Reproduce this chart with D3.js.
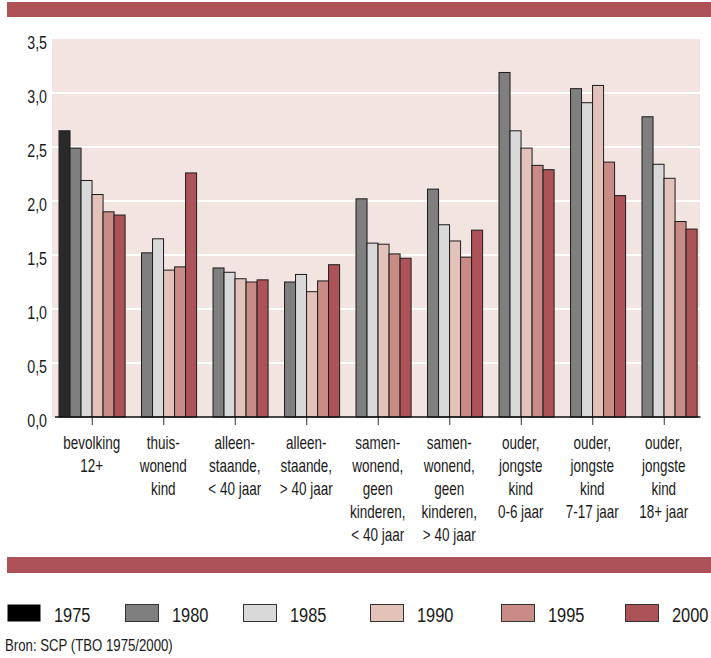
<!DOCTYPE html>
<html>
<head>
<meta charset="utf-8">
<script src="https://cdn.jsdelivr.net/npm/d3@7/dist/d3.min.js"></script>
<style>
  html, body { margin: 0; padding: 0; background: #ffffff; }
  svg { display: block; }
  text { font-family: "Liberation Sans", Arial, sans-serif; fill: #1a1a1a; }
</style>
</head>
<body>
<svg id="chart" width="711" height="658"></svg>
<script>
// ---- data ----
const categories = [
  ["bevolking", "12+"],
  ["thuis-", "wonend", "kind"],
  ["alleen-", "staande,", "< 40 jaar"],
  ["alleen-", "staande,", "> 40 jaar"],
  ["samen-", "wonend,", "geen", "kinderen,", "< 40 jaar"],
  ["samen-", "wonend,", "geen", "kinderen,", "> 40 jaar"],
  ["ouder,", "jongste", "kind", "0-6 jaar"],
  ["ouder,", "jongste", "kind", "7-17 jaar"],
  ["ouder,", "jongste", "kind", "18+ jaar"]
];
const years = ["1975", "1980", "1985", "1990", "1995", "2000"];
const v1975 = [2.65, null, null, null, null, null, null, null, null];
const v1980 = [2.49, 1.52, 1.38, 1.25, 2.02, 2.11, 3.19, 3.04, 2.78];
const v1985 = [2.19, 1.65, 1.34, 1.32, 1.61, 1.78, 2.65, 2.91, 2.34];
const v1990 = [2.06, 1.36, 1.28, 1.16, 1.60, 1.63, 2.49, 3.07, 2.21];
const v1995 = [1.90, 1.39, 1.25, 1.26, 1.51, 1.48, 2.33, 2.36, 1.81];
const v2000 = [1.87, 2.26, 1.27, 1.41, 1.47, 1.73, 2.29, 2.05, 1.74];
const seriesValues = [v1975, v1980, v1985, v1990, v1995, v2000];
const yTicks = [0, 0.5, 1, 1.5, 2, 2.5, 3, 3.5];
const sourceText = "Bron: SCP (TBO 1975/2000)";

// ---- styles / layout ----
const barColors = ["#2a2a2a", "#7f7f7f", "#d9d9d9", "#e2c2b9", "#c98b85", "#ad5357"];
const legendColors = ["#000000", "#7f7f7f", "#d9d9d9", "#e2c2b9", "#c98b85", "#ad5357"];
const legendX = [7, 125, 243, 370, 501, 625];
const accent = "#ad5357";
const plotBg = "#f2e4e1";

const svg = d3.select("#chart");
const plot = { left: 52, right: 700, top: 39, bottom: 417 };

const x0 = d3.scaleBand().domain(d3.range(categories.length)).range([56, 699.5]).padding(0);
const x1 = d3.scaleBand().domain(years).range([3, x0.bandwidth() - 2.4]).padding(0);
const y = d3.scaleLinear().domain([0, 3.5]).range([plot.bottom, plot.top]);

// top & bottom accent bars
svg.append("rect").attr("x", 7).attr("y", 2).attr("width", 704).attr("height", 15).attr("fill", accent);
svg.append("rect").attr("x", 7).attr("y", 557).attr("width", 704).attr("height", 16).attr("fill", accent);

// plot background
svg.append("rect")
  .attr("x", plot.left).attr("y", plot.top)
  .attr("width", plot.right - plot.left).attr("height", plot.bottom - plot.top)
  .attr("fill", plotBg);

// gridlines
svg.append("g").selectAll("line").data(yTicks.filter(d => d > 0 && d < 3.5)).join("line")
  .attr("x1", plot.left).attr("x2", plot.right)
  .attr("y1", d => y(d)).attr("y2", d => y(d))
  .attr("stroke", "#ffffff").attr("stroke-width", 2.2);

// y-axis labels
const yAxis = d3.axisLeft(y).tickValues(yTicks).tickSize(0).tickPadding(0)
  .tickFormat(d => d3.format(".1f")(d).replace(".", ","));
const gy = svg.append("g").attr("transform", "translate(47,0)").call(yAxis);
gy.select(".domain").remove();
gy.selectAll("text")
  .attr("font-size", 18).attr("font-family", null).attr("fill", "#1a1a1a")
  .attr("x", 0).attr("dy", "0.5em")
  .attr("transform", "scale(0.79,1)");

// bars
const groups = svg.append("g").selectAll("g").data(categories).join("g")
  .attr("transform", (d, i) => `translate(${x0(i)},0)`);
groups.selectAll("rect")
  .data((d, i) => years.map((yr, s) => ({ yr, s, v: seriesValues[s][i] })).filter(e => e.v != null))
  .join("rect")
  .attr("x", d => x1(d.yr))
  .attr("width", x1.bandwidth())
  .attr("y", d => y(d.v))
  .attr("height", d => y(0) - y(d.v))
  .attr("fill", d => barColors[d.s])
  .attr("stroke", "#1c1c1c")
  .attr("stroke-width", 1);

// x axis
const xAxis = d3.axisBottom(d3.scaleLinear().domain([0, categories.length - 1])
  .range([x0(0) + x0.bandwidth() / 2, x0(categories.length - 1) + x0.bandwidth() / 2]))
  .tickValues(d3.range(categories.length)).tickSize(8).tickFormat("");
const gx = svg.append("g").attr("transform", `translate(0,${plot.bottom})`).call(xAxis);
gx.select(".domain").remove();
gx.selectAll(".tick line").attr("stroke", "#333");
svg.append("line").attr("x1", 55).attr("x2", 700.5).attr("y1", plot.bottom).attr("y2", plot.bottom)
  .attr("stroke", "#111").attr("stroke-width", 1.5);

// category labels
const labels = svg.append("g").selectAll("text").data(categories).join("text")
  .attr("text-anchor", "middle")
  .attr("font-size", 17.5)
  .attr("transform", (d, i) => `translate(${x0(i) + x0.bandwidth() / 2},0) scale(0.77,1)`);
labels.selectAll("tspan").data(d => d).join("tspan")
  .attr("x", 0)
  .attr("y", (d, j) => 449.5 + j * 23)
  .text(d => d);

// legend
const leg = svg.append("g").selectAll("g").data(years).join("g")
  .attr("transform", (d, i) => `translate(${legendX[i]},0)`);
leg.append("rect")
  .attr("x", 0.5).attr("y", 604.5).attr("width", 33).attr("height", 17)
  .attr("fill", (d, i) => legendColors[i])
  .attr("stroke", (d, i) => i === 0 ? "none" : "#333").attr("stroke-width", 1);
leg.append("text")
  .attr("transform", "translate(47,621.5) scale(0.8,1)")
  .attr("font-size", 20.5).text(d => d);

// source
svg.append("text")
  .attr("transform", "translate(5,651) scale(0.8,1)")
  .attr("font-size", 16.5).text(sourceText);
</script>
</body>
</html>
